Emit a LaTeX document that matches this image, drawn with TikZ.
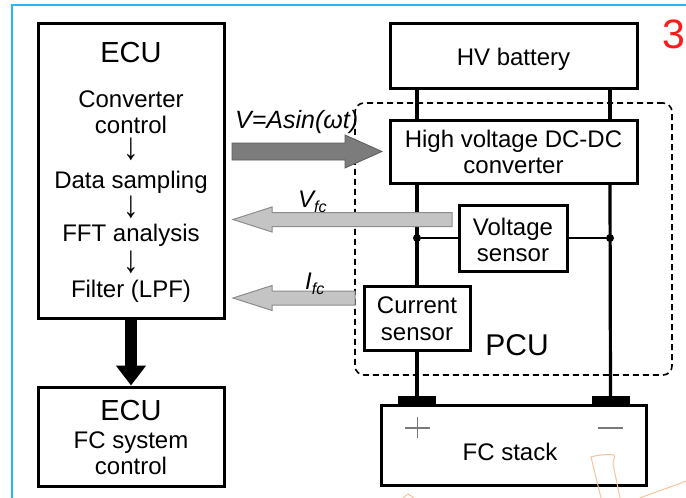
\documentclass[tikz,border=0pt]{standalone}
\usepackage{fontspec}
\setmainfont{Liberation Sans}
\usetikzlibrary{calc,arrows.meta}
\definecolor{frameblue}{HTML}{29B6F6}
\definecolor{darkfill}{HTML}{7C7C7C}
\definecolor{darkedge}{HTML}{5C5C5C}
\definecolor{lightfill}{HTML}{C4C4C4}
\definecolor{lightedge}{HTML}{8C8C8C}
\definecolor{signgray}{HTML}{7A7A7A}
\definecolor{wmorange}{HTML}{F7C39C}
\definecolor{numred}{HTML}{FF1A1A}
\newcommand{\fsbody}{\fontsize{24}{27}\selectfont}
\newcommand{\fstitle}{\fontsize{29}{30}\selectfont}
\newcommand{\darr}{\scalebox{1.3}[1.6]{↓}}
\tikzset{
  blk/.style={draw, line width=3pt, inner sep=0pt, fill=white},
  txt/.style={font=\fsbody, inner sep=0pt, anchor=base},
  ttl/.style={font=\fstitle, inner sep=0pt, anchor=base},
  arw/.style={font=\fsbody, inner sep=0pt, anchor=center},
  wire/.style={line width=3.2pt},
  thinwire/.style={line width=2pt},
  jdot/.style={circle, fill=black, inner sep=0pt, minimum size=8pt},
  term/.style={fill=black, inner sep=0pt, minimum width=38pt, minimum height=10pt},
  pcubox/.style={draw, line width=1.6pt, dash pattern=on 6pt off 4pt, rounded corners=9pt, inner sep=0pt},
  darkarr/.style={fill=darkfill, draw=darkedge, line width=0.8pt, line join=miter},
  lightarr/.style={fill=lightfill, draw=lightedge, line width=1pt, line join=miter},
  sign/.style={draw=signgray, line width=1.5pt},
  wm/.style={draw=wmorange, line width=1pt},
}
\begin{document}
\begin{tikzpicture}[x=1pt,y=-1pt]
\useasboundingbox (0,0) rectangle (686,498);
% screenshot frame
\draw[frameblue, line width=2pt] (12,498) -- (12,5) -- (686,5);
\node[font=\fontsize{41}{41}\selectfont, text=numred, inner sep=0pt, anchor=base] (num) at (674,48) {3};

% PCU dashed region
\node[pcubox, minimum width=317pt, minimum height=272pt] (pcu) at (513.5,239) {};
\node[font=\fontsize{30}{30}\selectfont, inner sep=0pt, anchor=base] (pculabel) at (517,355) {PCU};

% wire x-positions
\coordinate (xl) at (417,0);
\coordinate (xr) at (610,0);

% boxes
\node[blk, minimum width=247pt, minimum height=65pt] (hv) at (513.5,55.5) {};
\node[blk, minimum width=247pt, minimum height=63pt] (conv) at (513.5,151.5) {};
\node[blk, minimum width=108pt, minimum height=66pt] (vs) at (513,238) {};
\node[blk, minimum width=106pt, minimum height=64pt] (cs) at (417,318) {};
\node[term] (tl) at (417,401) {};
\node[term] (tr) at (610.5,401) {};
\node[blk, minimum width=265pt, minimum height=80pt] (fc) at (513.5,445) {};
\node[blk, minimum width=186pt, minimum height=295pt] (ecu) at (131,170.5) {};
\node[blk, minimum width=186pt, minimum height=99pt] (ecu2) at (131,436.5) {};

% wires
\draw[wire] (hv.south -| xl) -- (conv.north -| xl);
\draw[wire] (hv.south -| xr) -- (conv.north -| xr);
\draw[wire] (conv.south -| xl) -- (cs.north);
\draw[wire] (cs.south) -- (tl.north);
\draw[wire] (conv.south -| xr) -- (tr.north);
\node[jdot] (jl) at (vs.west -| xl) {};
\node[jdot] (jr) at (vs.east -| xr) {};
\draw[thinwire] (jl) -- (vs.west);
\draw[thinwire] (vs.east) -- (jr);

% box texts
\node[ttl] (ecut) at (131,62) {ECU};
\node[txt] (t1) at (131,107) {Converter};
\node[txt] (t2) at (131,133) {control};
\node[arw] (a1) at (131,149) {\darr};
\node[txt] (t3) at (131,188) {Data sampling};
\node[arw] (a2) at (131,207) {\darr};
\node[txt] (t4) at (131,241) {FFT analysis};
\node[arw] (a3) at (131,262) {\darr};
\node[txt] (t5) at (131,297) {Filter (LPF)};

\node[ttl] (ecu2t) at (131,420) {ECU};
\node[txt] (ecu2a) at (131,448) {FC system};
\node[txt] (ecu2b) at (131,474) {control};

\node[txt] (hvt) at (513.5,65) {HV battery};
\node[txt] (convt1) at (513.5,147) {High voltage DC-DC};
\node[txt] (convt2) at (513.5,173) {converter};
\node[txt] (vst1) at (513,235) {Voltage};
\node[txt] (vst2) at (513,261) {sensor};
\node[txt] (cst1) at (417,313) {Current};
\node[txt] (cst2) at (417,340) {sensor};
\node[txt] (fct) at (510,460) {FC stack};

% polarity signs
\draw[sign] (405,428) -- (430,428);
\draw[sign] (417.5,417) -- (417.5,438);
\draw[sign] (598,428) -- (623,428);

% ECU -> ECU2 thick arrow
\draw[line width=12pt, -{Triangle[width=29pt,length=20pt]}] (ecu.south) -- (ecu2.north);

% block arrows
\coordinate (vtail) at (232,151.5);
\coordinate (vtip) at (382,151.5);
\filldraw[darkarr] ($(vtail)+(0,-8.5)$) -- ($(vtip)+(-37,-8.5)$) -- ($(vtip)+(-37,-16.5)$) -- (vtip)
  -- ($(vtip)+(-37,16.5)$) -- ($(vtip)+(-37,8.5)$) -- ($(vtail)+(0,8.5)$) -- cycle;
\node[font=\fontsize{25}{27}\selectfont\itshape, inner sep=0pt, anchor=base west] (vlabel) at (235,128) {V=Asin(ωt)};

\coordinate (ftail) at (452,219.5);
\coordinate (ftip) at (233,219.5);
\filldraw[lightarr] ($(ftail)+(0,-7)$) -- ($(ftip)+(39,-7)$) -- ($(ftip)+(39,-12.5)$) -- (ftip)
  -- ($(ftip)+(39,12.5)$) -- ($(ftip)+(39,7)$) -- ($(ftail)+(0,7)$) -- cycle;
\node[font=\fontsize{24}{26}\selectfont\itshape, inner sep=0pt, anchor=base west] (vfclabel) at (298,207)
  {V\raisebox{-5pt}{\fontsize{16}{16}\selectfont fc}};

\coordinate (itail) at (355,298);
\coordinate (itip) at (233,298);
\filldraw[lightarr] ($(itail)+(0,-7)$) -- ($(itip)+(39,-7)$) -- ($(itip)+(39,-12.5)$) -- (itip)
  -- ($(itip)+(39,12.5)$) -- ($(itip)+(39,7)$) -- ($(itail)+(0,7)$) -- cycle;
\node[font=\fontsize{24}{26}\selectfont\itshape, inner sep=0pt, anchor=base west] (ifclabel) at (305,289)
  {I\raisebox{-5pt}{\fontsize{16}{16}\selectfont fc}};

% faint watermark strokes
\draw[wm] (601,498) -- (591,457) .. controls (598,455) and (607,454) .. (614,455)
  .. controls (616,458) and (612,461) .. (613,464) -- (620,498);
\draw[wm] (640,498) .. controls (658,491) and (674,486) .. (686,481);
\draw[wm] (403,498) -- (408,494) -- (414,498);
\end{tikzpicture}
\end{document}
